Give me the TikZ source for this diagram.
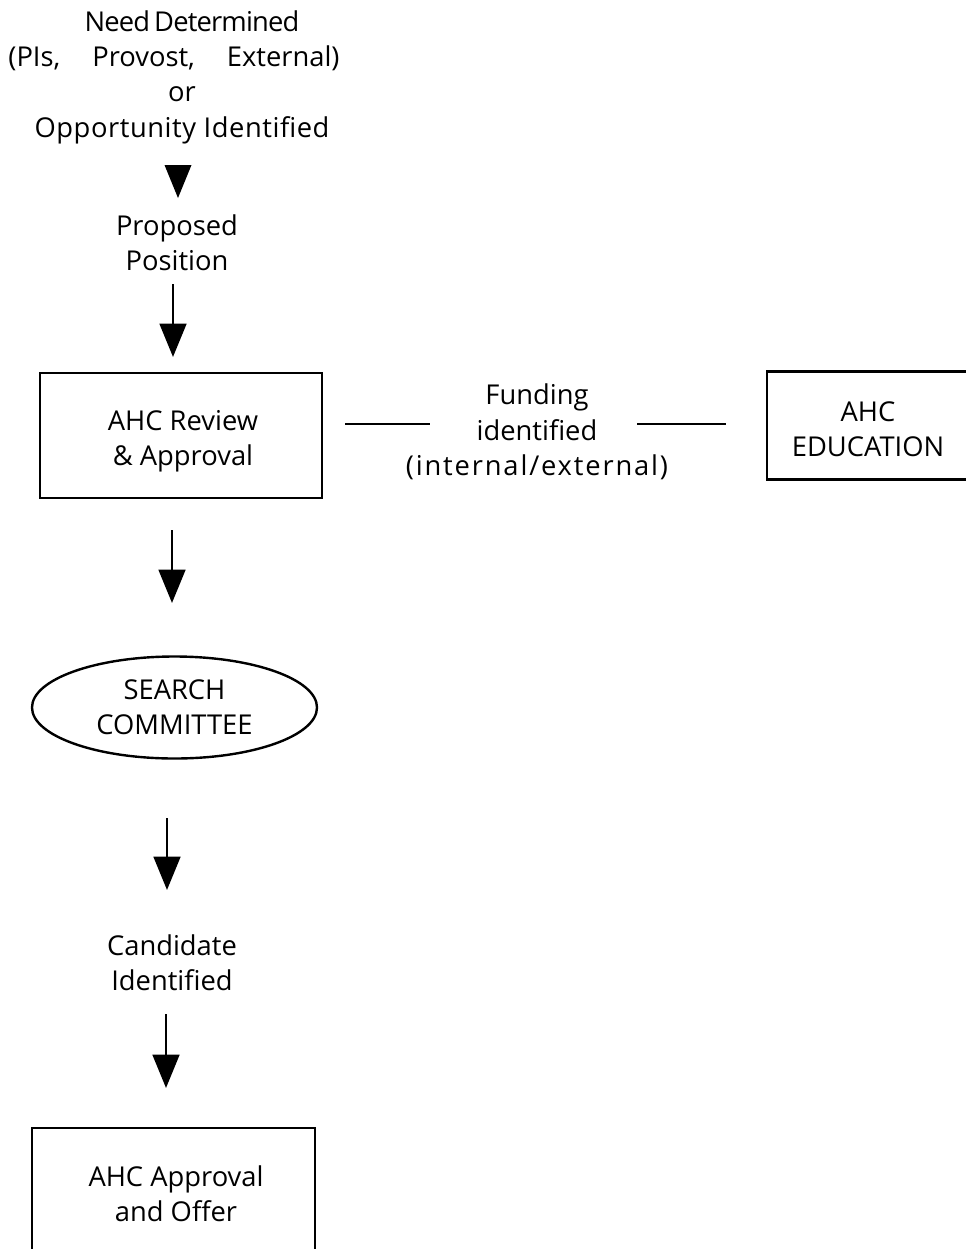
\documentclass[tikz,border=0pt]{standalone}
\usepackage{fontspec}
\setmainfont{Open Sans}
\newfontfamily\widefont[LetterSpace=6.7]{Open Sans}
\newfontfamily\roomyfont[LetterSpace=2]{Open Sans}
\newfontfamily\tightfont[LetterSpace=-3]{Open Sans}
\usetikzlibrary{arrows.meta,shapes.geometric}
\begin{document}
\begin{tikzpicture}[x=0.75pt,y=-0.75pt,
  every node/.style={font=\fontsize{20.5}{26.5}\selectfont, align=center, inner sep=0pt},
  stepbox/.style={draw, line width=2.2pt, rectangle, inner sep=0pt},
  oval/.style={draw, line width=1.8pt, ellipse, inner sep=0pt},
  arr/.style={line width=2pt, -{Triangle[length=25pt,width=20pt]}},
  link/.style={line width=1.9pt}]
\clip (0,0) rectangle (966,1249);
\fill[white] (0,0) rectangle (966,1249);

% start of the process
\node (need) at (182,77) {\hspace*{15pt}{\tightfont Need\hspace{3pt}Determined}\\(PIs,\hspace{24pt}Provost,\hspace{24pt}External)\hspace*{12pt}\null\\or\\{\roomyfont Opportunity Identified}};
\node (prop) at (177,243) {Proposed\\Position};

% review box and funding link
\node[stepbox, minimum width=282*0.75pt, minimum height=125*0.75pt] (review) at (181,435.5) {};
\node (reviewtext) at (183,441.5) {AHC Review\\\& Approval};
\node (fund) at (537,432) {Funding\\identified\\{\widefont (internal/external)}};
\node[stepbox, minimum width=240*0.75pt, minimum height=108*0.75pt] (edu) at (887,425.5) {};
\node (edutext) at (868,429.5) {AHC\\EDUCATION};

% search stage
\node[oval, minimum width=285*0.75pt, minimum height=102*0.75pt] (search) at (174.5,707.5) {SEARCH\\COMMITTEE};
\node (cand) at (172,963) {Candidate\\Identified};

% final box, running past the lower edge
\node[stepbox, minimum width=283*0.75pt, minimum height=160*0.75pt] (offer) at (173.5,1208) {};
\node (offertext) at (176,1193.5) {AHC Approval\\and Offer};

% connector end points
\coordinate (a1s) at (178,165);
\coordinate (a1e) at (178,198);
\coordinate (a2s) at (173,284);
\coordinate (a2e) at (173,357);
\coordinate (a3s) at (172,530);
\coordinate (a3e) at (172,603);
\coordinate (a4s) at (167,818);
\coordinate (a4e) at (167,890);
\coordinate (a5s) at (166,1014);
\coordinate (a5e) at (166,1088);
\coordinate (l1s) at (345,424);
\coordinate (l1e) at (430,424);
\coordinate (l2s) at (637,424);
\coordinate (l2e) at (726,424);

\fill (a1e) -- ++(-13.5,-33) -- ++(27,0) -- cycle;
\draw[arr] (a2s) -- (a2e);
\draw[arr] (a3s) -- (a3e);
\draw[arr] (a4s) -- (a4e);
\draw[arr] (a5s) -- (a5e);
\draw[link] (l1s) -- (l1e);
\draw[link] (l2s) -- (l2e);
\end{tikzpicture}
\end{document}
